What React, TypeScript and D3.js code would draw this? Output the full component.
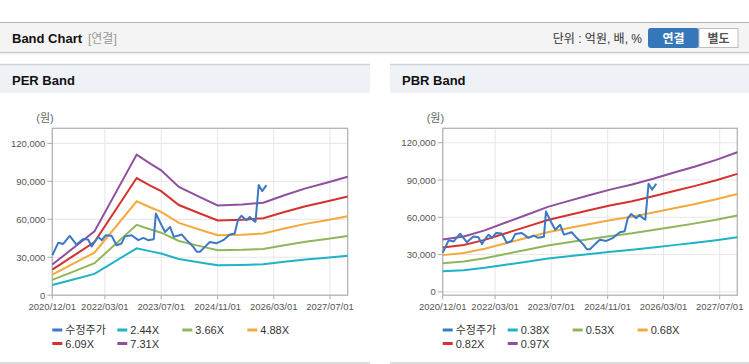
import React from "react";
import * as d3 from "d3";

// x axis ticks and y ticks
const tickDates = ["2020/12/01", "2022/03/01", "2023/07/01", "2024/11/01", "2026/03/01", "2027/07/01"];
const yTicks = [0, 30000, 60000, 90000, 120000];

// adjusted price (수정주가)
const priceDates = [
  "2020-12-01", "2021-01-22", "2021-03-05", "2021-05-01", "2021-06-28", "2021-08-25",
  "2021-10-07", "2021-11-07", "2021-12-04", "2022-01-03", "2022-02-03", "2022-03-10",
  "2022-04-28", "2022-06-10", "2022-07-22", "2022-08-22", "2022-10-18", "2022-12-15",
  "2023-01-28", "2023-03-10", "2023-04-28", "2023-05-16", "2023-07-04", "2023-08-04",
  "2023-09-16", "2023-10-19", "2023-12-25", "2024-02-06", "2024-04-04", "2024-05-04",
  "2024-06-01", "2024-07-13", "2024-08-25", "2024-10-21", "2024-12-19", "2025-02-15",
  "2025-03-28", "2025-04-25", "2025-05-25", "2025-07-07", "2025-08-06", "2025-09-03",
  "2025-09-24", "2025-10-22", "2025-11-21", "2025-12-28",
];
const priceValues = [
  31600, 41500, 40500, 46800, 40000, 44500,
  44000, 38500, 42500, 46000, 43500, 47400,
  47000, 39500, 40900, 46500, 47400, 43500,
  45300, 43500, 44300, 64600, 55400, 50000,
  54000, 46100, 48000, 43500, 38200, 34300,
  34300, 38200, 42000, 41000, 43500, 48000,
  48800, 59300, 62700, 59300, 61900, 59300,
  58000, 87000, 82300, 87000,
];

// EPS behind the PER band
const epsDates = [
  "2020-12-01", "2021-06-01", "2021-12-01", "2022-12-01", "2023-04-01", "2023-07-01",
  "2023-12-01", "2024-06-01", "2024-11-01", "2025-06-01", "2025-12-01", "2026-06-01",
  "2026-12-01", "2027-06-01", "2027-12-01",
];
const epsValues = [
  3320, 5100, 6900, 15200, 14200, 13500,
  11700, 10600, 9700, 9800, 10000, 10800,
  11550, 12150, 12800,
];
const perMultiples = [2.44, 3.66, 4.88, 6.09, 7.31];

// BPS behind the PBR band
const bpsDates = [
  "2020-12-01", "2021-06-01", "2021-12-01", "2022-06-01", "2022-12-01", "2023-06-01",
  "2023-12-01", "2024-06-01", "2024-12-01", "2025-06-01", "2025-12-01", "2026-06-01",
  "2026-12-01", "2027-06-01", "2027-12-01",
];
const bpsValues = [
  43500, 46000, 51000, 57500, 64000, 70500,
  75500, 80300, 85000, 89000, 93800, 99000,
  104000, 109500, 115800,
];
const pbrMultiples = [0.38, 0.53, 0.68, 0.82, 0.97];

const priceLabel = "수정주가";
const priceColor = "#3b78c6";
const bandColors = ["#20b2c6", "#8fb65a", "#f3a93c", "#d4332d", "#8e4f9f"];

const FONT = "'Liberation Sans', Arial, 'Noto Sans CJK KR', sans-serif";
const parse = d3.timeParse("%Y-%m-%d");
const parseTick = d3.timeParse("%Y/%m/%d");

type Pt = { date: Date; value: number };

function BandPanel(props: {
  left: number;
  width: number;
  title: string;
  plotLeft: number;
  plotRight: number;
  yDomain: [number, number];
  baseDates: string[];
  baseValues: number[];
  multiples: number[];
}) {
  const { left, width, title, plotLeft, plotRight, yDomain, baseDates, baseValues, multiples } = props;
  const top = 128.3;
  const bottom = 295.2;

  const x = d3.scaleTime()
    .domain([parse("2020-12-01")!, parse("2027-12-01")!])
    .range([plotLeft, plotRight]);
  const y = d3.scaleLinear().domain(yDomain).range([bottom, top]);

  const line = d3.line<Pt>().x(d => x(d.date)).y(d => y(d.value));

  const price: Pt[] = priceDates.map((d, i) => ({ date: parse(d)!, value: priceValues[i] }));
  const bands = multiples.map(k =>
    baseDates.map((d, i) => ({ date: parse(d)!, value: baseValues[i] * k }))
  );

  const legend = [priceLabel, ...multiples.map(k => k.toFixed(2) + "X")];
  const legendColors = [priceColor, ...bandColors];
  const ticks = tickDates.map(t => parseTick(t)!);

  return (
    <g>
      {/* panel header */}
      <rect x={left} y={64} width={width} height={29} fill="#eef2f7" />
      <line x1={left} x2={left + width} y1={64.5} y2={64.5} stroke="#cfd3d8" strokeWidth={1.5} />
      <text x={left + 12} y={85} fontFamily={FONT} fontSize={13} fontWeight="bold" fill="#111">{title}</text>
      <line x1={left} x2={left + width} y1={363} y2={363} stroke="#d0d0d0" strokeWidth={1.5} />

      {/* unit */}
      <text x={plotLeft - 16} y={122} fontFamily={FONT} fontSize={11} fill="#666">(원)</text>

      {/* grid */}
      {yTicks.map(v => (
        <line key={"gy" + v} x1={plotLeft} x2={plotRight} y1={y(v)} y2={y(v)} stroke="#e6e6e6" />
      ))}
      {ticks.map((t, i) => (
        <line key={"gx" + i} x1={x(t)} x2={x(t)} y1={top} y2={bottom} stroke="#e6e6e6" />
      ))}
      <rect x={plotLeft} y={top} width={plotRight - plotLeft} height={bottom - top}
        fill="none" stroke="#b4b4b4" strokeWidth={1.3} />

      {/* y axis */}
      {yTicks.map(v => (
        <g key={"ty" + v}>
          <line x1={plotLeft - 5} x2={plotLeft} y1={y(v)} y2={y(v)} stroke="#aaa" />
          <text x={plotLeft - 7} y={y(v) + 3.5} textAnchor="end" fontFamily={FONT} fontSize={9.5} fill="#555">
            {d3.format(",")(v)}
          </text>
        </g>
      ))}
      {/* x axis */}
      {ticks.map((t, i) => (
        <g key={"tx" + i}>
          <line x1={x(t)} x2={x(t)} y1={bottom} y2={bottom + 4} stroke="#aaa" />
          <text x={x(t)} y={310} textAnchor="middle" fontFamily={FONT} fontSize={9.5} fill="#555">
            {tickDates[i]}
          </text>
        </g>
      ))}

      {/* bands */}
      {bands.map((b, i) => (
        <path key={"b" + i} d={line(b) || ""} fill="none" stroke={bandColors[i]} strokeWidth={2} />
      ))}
      <path d={line(price) || ""} fill="none" stroke={priceColor} strokeWidth={2} strokeLinejoin="round" />

      {/* legend */}
      {legend.map((l, i) => {
        const lx = plotLeft + (i % 4) * 65;
        const ly = 330 + Math.floor(i / 4) * 13.5;
        return (
          <g key={"lg" + i}>
            <line x1={lx} x2={lx + 10} y1={ly} y2={ly} stroke={legendColors[i]} strokeWidth={3} />
            <text x={lx + 13} y={ly + 4} fontFamily={FONT} fontSize={11} fill="#333">{l}</text>
          </g>
        );
      })}
    </g>
  );
}

export default function App() {
  return (
    <svg width={749} height={364} style={{ position: "absolute", left: 0, top: 0 }}>
      <rect width={749} height={364} fill="#fff" />
      {/* page header */}
      <rect x={0} y={22} width={749} height={31} fill="#f4f4f4" />
      <line x1={0} x2={749} y1={22.5} y2={22.5} stroke="#b5b5b5" />
      <line x1={0} x2={749} y1={52.5} y2={52.5} stroke="#c4c4c4" />
      <line x1={0} x2={749} y1={54} y2={54} stroke="#e8e8e8" />
      <text x={12} y={43} fontFamily={FONT} fontSize={13} fontWeight="bold" fill="#111">Band Chart</text>
      <text x={88} y={42.5} fontFamily={FONT} fontSize={12} fill="#999">[연결]</text>
      <text x={642} y={42.5} textAnchor="end" fontFamily={FONT} fontSize={12} fill="#333">단위 : 억원, 배, %</text>
      <rect x={648} y={28} width={51} height={20} rx={3} fill="#3577b9" />
      <text x={673.5} y={42.5} textAnchor="middle" fontFamily={FONT} fontSize={12} fontWeight="bold" fill="#fff">연결</text>
      <rect x={699} y={28.5} width={39} height={19} fill="#fff" stroke="#bdbdbd" />
      <text x={718.5} y={42.5} textAnchor="middle" fontFamily={FONT} fontSize={12} fontWeight="bold" fill="#555">별도</text>

      <BandPanel left={0} width={370} title="PER Band" plotLeft={52.3} plotRight={347.7}
        yDomain={[0, 131900]} baseDates={epsDates} baseValues={epsValues} multiples={perMultiples} />
      <BandPanel left={390} width={359} title="PBR Band" plotLeft={442.7} plotRight={737.3}
        yDomain={[-2660, 131600]} baseDates={bpsDates} baseValues={bpsValues} multiples={pbrMultiples} />
    </svg>
  );
}
